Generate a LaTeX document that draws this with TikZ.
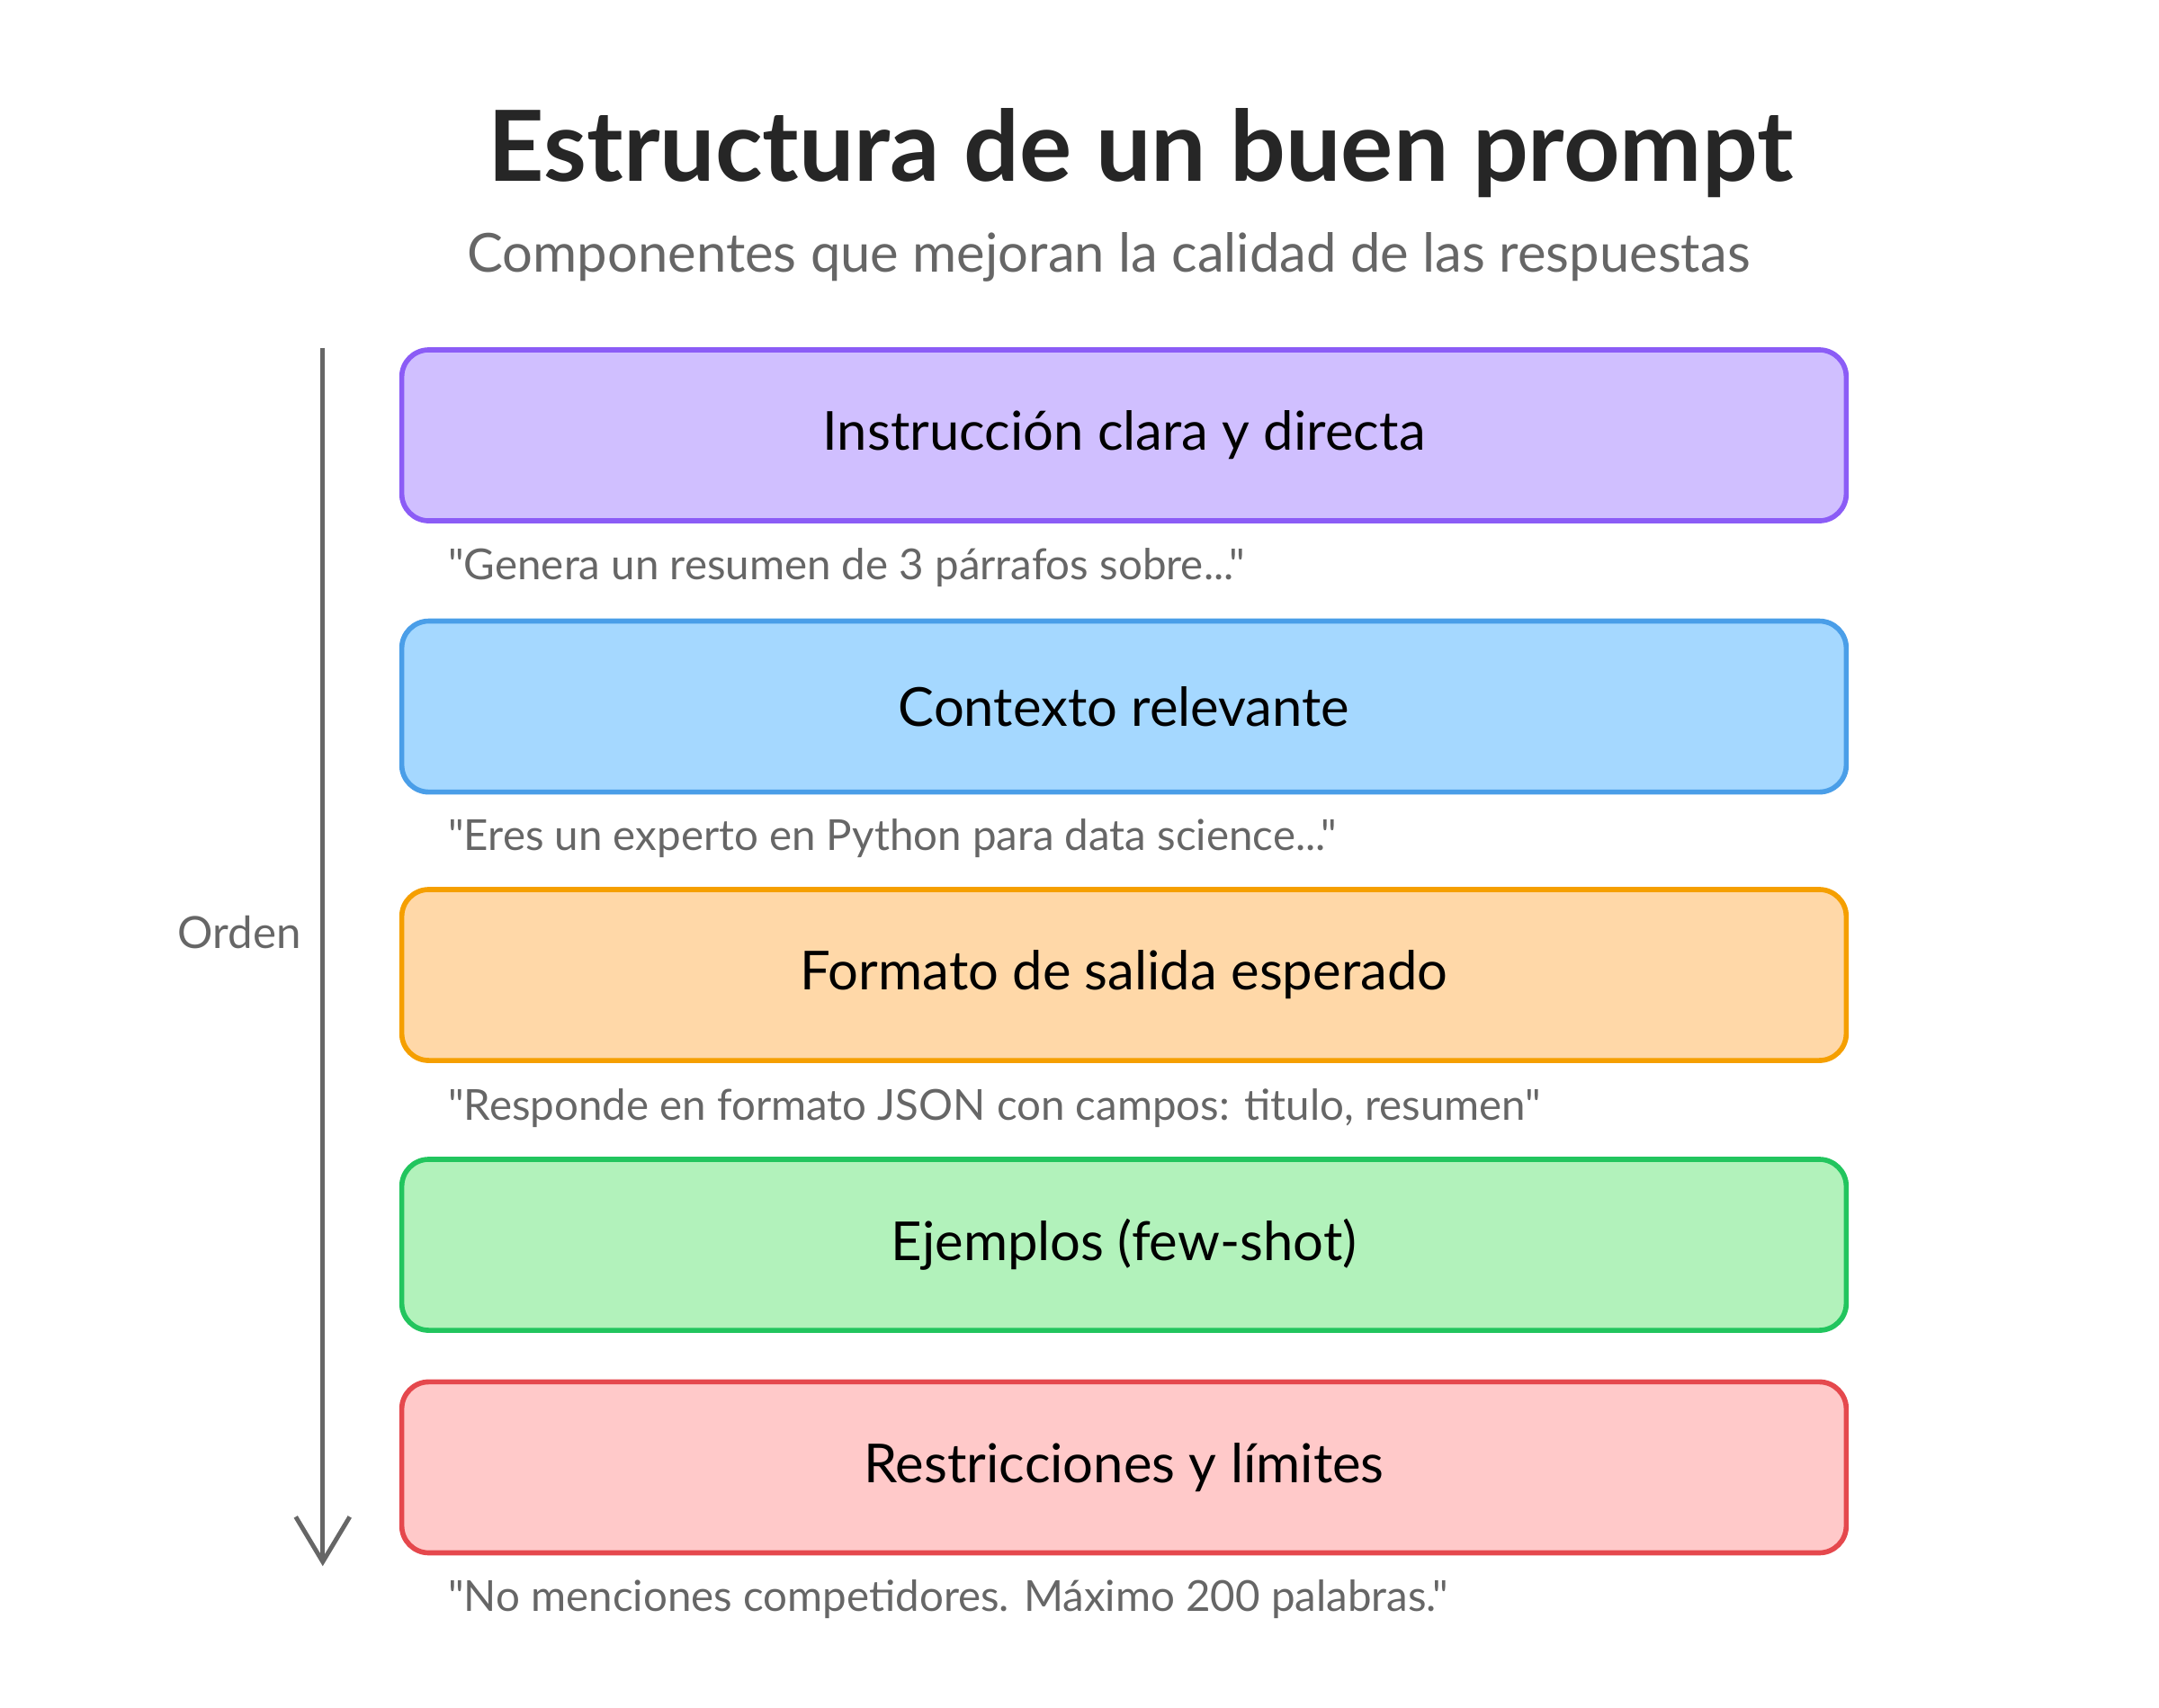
\documentclass[tikz,border=0pt]{standalone}
\usepackage{fontspec}
\setmainfont{Lato}[Ligatures=TeXOff]
\usetikzlibrary{positioning}
\usetikzlibrary{arrows.meta}
\definecolor{purpleline}{HTML}{8B5CF6}
\definecolor{purplefill}{HTML}{D0BFFF}
\definecolor{blueline}{HTML}{4A9EE8}
\definecolor{bluefill}{HTML}{A5D8FF}
\definecolor{orangeline}{HTML}{F59F00}
\definecolor{orangefill}{HTML}{FFD8A8}
\definecolor{greenline}{HTML}{22C55E}
\definecolor{greenfill}{HTML}{B2F2BB}
\definecolor{redline}{HTML}{E5484D}
\definecolor{redfill}{HTML}{FFC9C9}
\definecolor{notegray}{HTML}{666666}
\tikzset{every node/.style={inner sep=0pt, outer sep=1pt}}
\tikzset{stepbox/.style={rectangle,rounded corners=0.3cm,line width=1.6pt,minimum width=16.05cm,minimum height=1.9cm,font=\fontsize{17}{20}\selectfont}}
\tikzset{notetext/.style={anchor=west,text=notegray,font=\fontsize{13.5}{16}\selectfont}}
\begin{document}
\begin{tikzpicture}[x=0.01546cm,y=-0.01546cm]
    \useasboundingbox (0,0) rectangle (1552,1228);

    \node[font=\fontsize{31}{36}\selectfont\bfseries,text=black!85] (Title) at (820,110) {Estructura de un buen prompt};
    \node[font=\fontsize{17}{20}\selectfont,text=notegray] (Subtitle) at (797,185) {Componentes que mejoran la calidad de las respuestas};

    \node[stepbox,draw=purpleline,fill=purplefill] (Instr) at (808,313) {Instrucción clara y directa};
    \node[notetext] (InstrNote) at (320,408) {"Genera un resumen de 3 párrafos sobre..."};

    \node[stepbox,draw=blueline,fill=bluefill] (Ctx) at (808,508) {Contexto relevante};
    \node[notetext] (CtxNote) at (320,603) {"Eres un experto en Python para data science..."};

    \node[stepbox,draw=orangeline,fill=orangefill] (Fmt) at (808,701) {Formato de salida esperado};
    \node[notetext] (FmtNote) at (320,797) {"Responde en formato JSON con campos: titulo, resumen"};

    \node[stepbox,draw=greenline,fill=greenfill] (Ejem) at (808,895) {Ejemplos (few-shot)};

    \node[stepbox,draw=redline,fill=redfill] (Restr) at (808,1055) {Restricciones y límites};
    \node[notetext] (RestrNote) at (320,1150) {"No menciones competidores. Máximo 200 palabras."};

    \coordinate (OrdenTop) at (232,250);
    \coordinate (OrdenEnd) at (232,1126);
    \draw[notegray,line width=1.4pt,-{Straight Barb[length=0.5cm,width=0.6cm]}] (OrdenTop) -- (OrdenEnd);
    \node[text=notegray,font=\fontsize{14}{16}\selectfont] (Orden) at (172,670) {Orden};
\end{tikzpicture}
\end{document}
